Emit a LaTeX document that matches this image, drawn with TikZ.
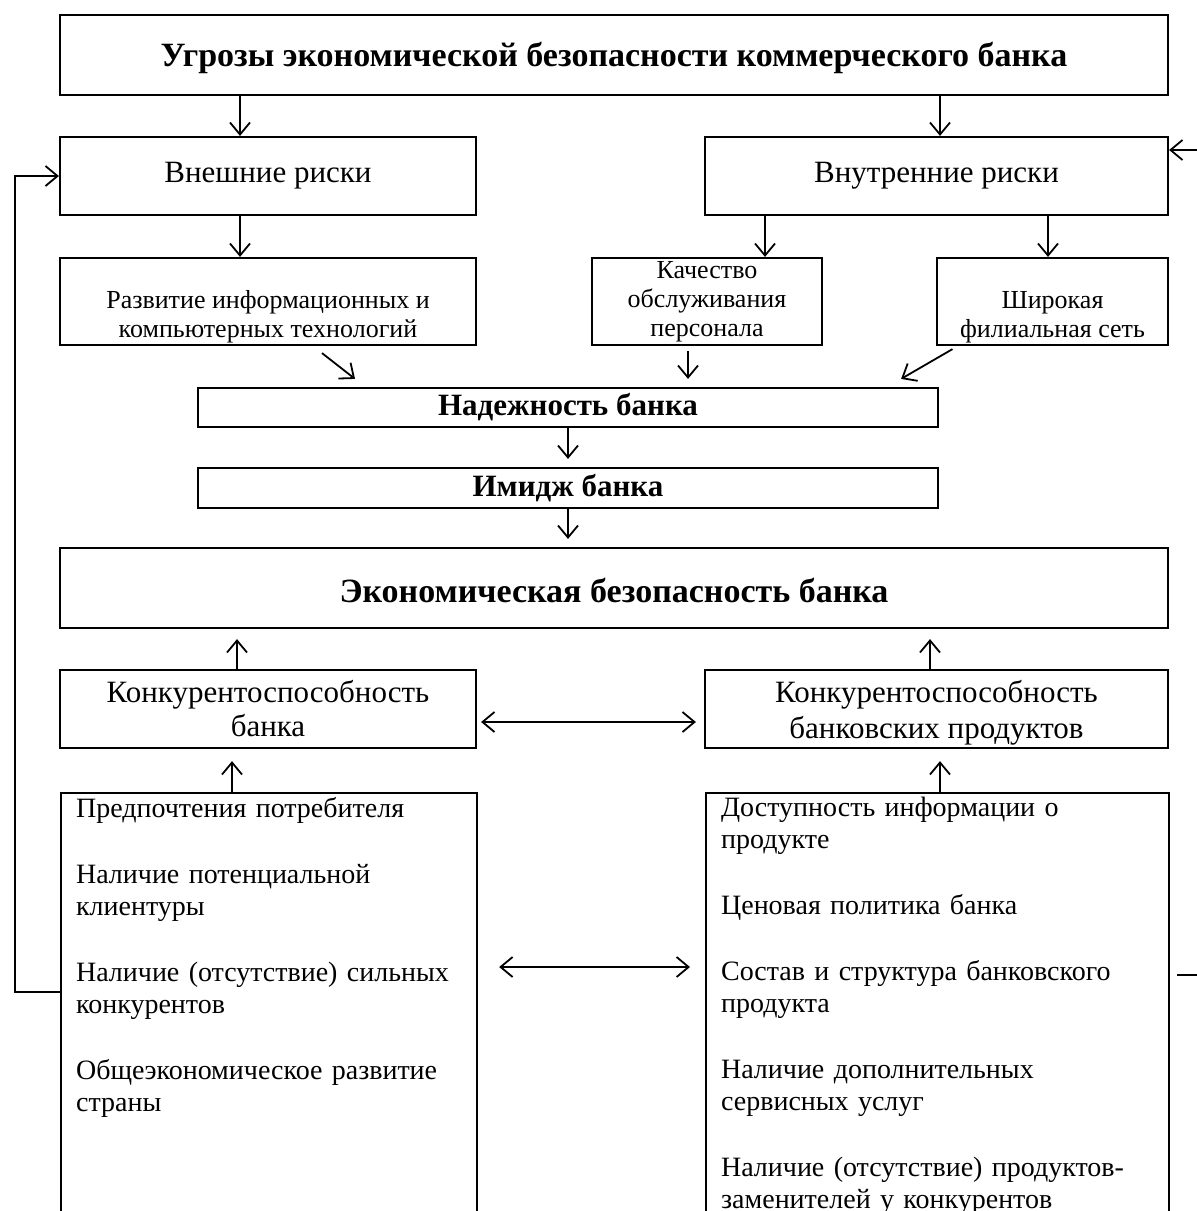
\documentclass[tikz,border=0pt]{standalone}
\usepackage{fontspec}
\setmainfont{Liberation Serif}
\usetikzlibrary{arrows.meta,positioning,calc}

\newcommand{\titlesize}{\fontsize{17pt}{19pt}\selectfont}
\newcommand{\bodysize}{\fontsize{15.5pt}{17pt}\selectfont}
\newcommand{\smallsize}{\fontsize{13pt}{14.5pt}\selectfont}
\newcommand{\listsize}{\fontsize{14pt}{16pt}\selectfont}

\begin{document}
\begin{tikzpicture}[x=0.5pt,y=-0.5pt,
    box/.style={draw,line width=1.1pt,inner sep=0pt,align=center,font=\bodysize},
    smallbox/.style={box,font=\smallsize,minimum height=43.5pt},
    listbox/.style={draw,line width=1.1pt,anchor=north west,align=left,
      inner xsep=7.5pt,inner ysep=2pt,text depth=215pt,font=\listsize},
    arr/.style={line width=0.9pt,-{Straight Barb[length=6pt,width=10pt]}},
    dblarr/.style={line width=0.9pt,{Straight Barb[length=6pt,width=10pt]}-{Straight Barb[length=6pt,width=10pt]}}]
    \clip (0,0) rectangle (1197,1211);

    % Threats and risks
    \node[box,font=\titlesize\bfseries,minimum width=554pt,minimum height=40pt] (threats) at (614,55)
        {\rule{0pt}{15pt}Угрозы экономической безопасности коммерческого банка};
    \node[box,minimum width=208pt,minimum height=39pt] (ext) at (268,176) {Внешние риски};
    \node[box,minimum width=231.5pt,minimum height=39pt] (int) at (936.5,176) {Внутренние риски};

    \node[smallbox,minimum width=208pt] (dev) at (268,301.5)
        {\strut\\Развитие информационных и\\компьютерных технологий};
    \node[smallbox,minimum width=115pt] (qual) at (707,301.5)
        {Качество\\обслуживания\\персонала};
    \node[smallbox,minimum width=115.5pt] (branch) at (1052.5,301.5)
        {\strut\\Широкая\\филиальная сеть};

    % Reliability, image, security
    \node[box,font=\bodysize\bfseries,minimum width=370pt,minimum height=19.5pt] (rel) at (568,407.5) {Надежность банка};
    \node[box,font=\bodysize\bfseries,minimum width=370pt,minimum height=20pt] (image) at (568,488) {Имидж банка};
    \node[box,font=\titlesize\bfseries,minimum width=554pt,minimum height=40pt] (sec) at (614,588)
        {\rule{0pt}{15pt}Экономическая безопасность банка};

    % Competitiveness
    \node[box,minimum width=208pt,minimum height=39pt] (compbank) at (268,709)
        {Конкурентоспособность\\банка};
    \node[box,minimum width=231.5pt,minimum height=39pt] (compprod) at (936.5,709)
        {\rule{0pt}{15pt}Конкурентоспособность\\[1pt]банковских продуктов};

    \node[listbox,text width=193pt] (leftlist) at (60,792)
        {Предпочтения потребителя\\[17pt]
         Наличие потенциальной\\клиентуры\\[17pt]
         Наличие (отсутствие) сильных\\конкурентов\\[17pt]
         Общеэкономическое развитие\\страны};
    \node[listbox,text width=216.5pt] (rightlist) at (705,792)
        {Доступность информации о\\продукте\\[17pt]
         Ценовая политика банка\\[17pt]
         Состав и структура банковского\\продукта\\[17pt]
         Наличие дополнительных\\сервисных услуг\\[17pt]
         Наличие (отсутствие) продуктов-\\заменителей у конкурентов};

    % Arrows
    \draw[arr] (threats.south -| 240,0) -- (ext.north -| 240,0);
    \draw[arr] (threats.south -| 940,0) -- (int.north -| 940,0);
    \draw[arr] (ext.south -| 240,0) -- (dev.north -| 240,0);
    \draw[arr] (int.south -| 765,0) -- (qual.north -| 765,0);
    \draw[arr] (int.south -| 1048,0) -- (branch.north -| 1048,0);

    \draw[arr] ($(dev.south)+(54,7)$) -- ($(rel.north)+(-213,-8)$);
    \draw[arr] ($(qual.south)+(-19,5)$) -- ($(rel.north -| qual.south)+(-19,-8)$);
    \draw[arr] ($(branch.south)+(-100,3)$) -- ($(rel.north east)+(-38,-8)$);

    \draw[arr] (rel.south) -- ($(image.north)+(0,-8)$);
    \draw[arr] (image.south) -- ($(sec.north -| image.south)+(0,-8)$);

    \draw[arr] (compbank.north -| 237,0) -- ($(sec.south -| 237,0)+(0,10)$);
    \draw[arr] (compprod.north -| 930,0) -- ($(sec.south -| 930,0)+(0,10)$);
    \draw[dblarr] ($(compbank.east)+(4,13)$) -- ($(compprod.west)+(-8,13)$);

    \draw[arr] (leftlist.north -| 232,0) -- ($(compbank.south -| 232,0)+(0,12)$);
    \draw[arr] (rightlist.north -| 940,0) -- ($(compprod.south -| 940,0)+(0,12)$);
    \draw[dblarr] ($(leftlist.north east)+(21,175)$) -- ($(rightlist.north west)+(-15,175)$);

    % Feedback lines
    \draw[arr] ($(leftlist.north west)+(0,200)$) -- ++(-45,0) |- (ext.west);
    \draw[arr] ($(rightlist.north east)+(7,183)$) -- ++(50,0) |- ($(int.east)+(0,-26)$);
\end{tikzpicture}
\end{document}
